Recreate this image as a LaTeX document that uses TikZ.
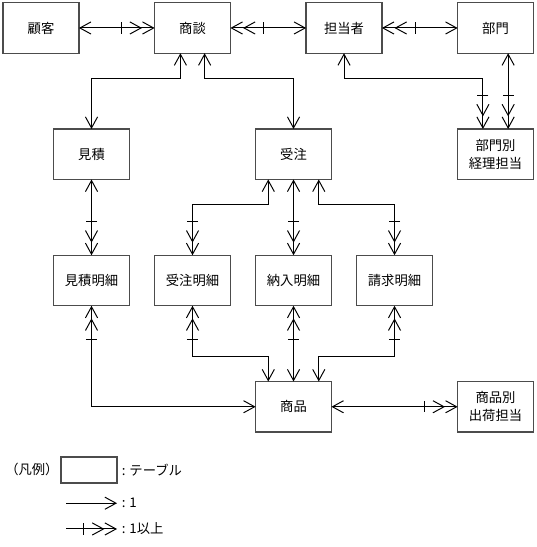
\documentclass[tikz,border=0pt]{standalone}
\usepackage{fontspec}
\setmainfont{Noto Sans CJK JP}
\usetikzlibrary{arrows.meta}

\tikzset{
  single/.tip={Straight Barb[length=.22cm,width=.24cm]},
  multi/.tip={Bar[width=.22cm,sep=.15cm]Straight Barb[length=.22cm,width=.24cm,sep=0pt]Straight Barb[length=.22cm,width=.24cm,sep=0pt]},
}

\begin{document}
\begin{tikzpicture}[inner sep=0pt,outer sep=0pt,line width=.55pt,
font=\fontsize{7.5}{10}\selectfont,
tbl/.style={draw=black!70,line width=.8pt,rectangle,minimum width=1.5cm,minimum height=1cm,align=center},
one/.style={arrows=single-single},
rel/.style={arrows=single-multi}]
\useasboundingbox (-0.812,0.554) rectangle (9.802,-10.277);

\draw (0,0) node[tbl] (kokyaku) {顧客};
\draw (3,0) node[tbl] (shodan) {商談};
\draw (6,0) node[tbl] (tanto) {担当者};
\draw (9,0) node[tbl] (bumon) {部門};
\draw (1,-2.5) node[tbl] (mitsumori) {見積};
\draw (5,-2.5) node[tbl] (juchu) {受注};
\draw (9,-2.5) node[tbl] (keiri) {部門別\\経理担当};
\draw (1,-5) node[tbl] (mmeisai) {見積明細};
\draw (3,-5) node[tbl] (jmeisai) {受注明細};
\draw (5,-5) node[tbl] (nmeisai) {納入明細};
\draw (7,-5) node[tbl] (smeisai) {請求明細};
\draw (5,-7.5) node[tbl] (shohin) {商品};
\draw (9,-7.5) node[tbl] (shukka) {商品別\\出荷担当};

\draw[rel] (kokyaku.0) -- (shodan.180);
\draw[rel] (tanto.180) -- (shodan.0);
\draw[rel] (bumon.180) -- (tanto.0);
\draw[one] ([xshift=-.24cm]shodan.-90) -- ++(0,-.5) -| (mitsumori.90);
\draw[one] ([xshift=.24cm]shodan.-90) -- ++(0,-.5) -| (juchu.90);
\draw[rel] (tanto.-90) -- ++(0,-.5) -| ([xshift=-.25cm]keiri.90);
\draw[rel] ([xshift=.25cm]bumon.-90) -- ([xshift=.25cm]keiri.90);
\draw[rel] (mitsumori.-90) -- (mmeisai.90);
\draw[rel] ([xshift=-.5cm]juchu.-90) -- ++(0,-.5) -| (jmeisai.90);
\draw[rel] (juchu.-90) -- (nmeisai.90);
\draw[rel] ([xshift=.5cm]juchu.-90) -- ++(0,-.5) -| (smeisai.90);
\draw[rel] (shohin.180) -| (mmeisai.-90);
\draw[rel] ([xshift=-.5cm]shohin.90) -- ++(0,.5) -| (jmeisai.-90);
\draw[rel] (shohin.90) -- (nmeisai.-90);
\draw[rel] ([xshift=.5cm]shohin.90) -- ++(0,.5) -| (smeisai.-90);
\draw[rel] (shohin.0) -- (shukka.180);

% legend
\draw (-0.18,-8.75) node (hanrei) {（凡例）};
\draw (0.95,-8.75) node[tbl,minimum width=1.11cm,minimum height=.515cm] (lgbox) {};
\draw (1.6,-8.75) node[anchor=west] (lgtext) {: テーブル};
\coordinate (l1a) at (0.5,-9.41);
\coordinate (l1b) at (1.505,-9.41);
\draw[-single] (l1a) -- (l1b);
\draw (1.6,-9.41) node[anchor=west] (l1t) {: 1};
\coordinate (l2a) at (0.5,-9.92);
\coordinate (l2b) at (1.505,-9.92);
\draw[-multi] (l2a) -- (l2b);
\draw (1.6,-9.92) node[anchor=west] (l2t) {: 1以上};
\end{tikzpicture}
\end{document}
